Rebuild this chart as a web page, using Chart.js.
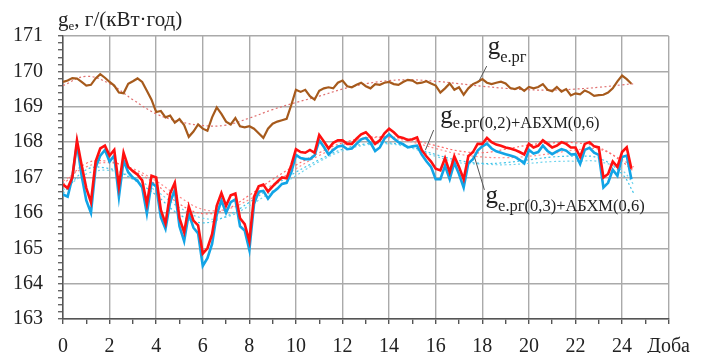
<!DOCTYPE html>
<html lang="uk">
<head>
  <meta charset="UTF-8">
  <title>ge – Доба</title>
  <script src="https://cdn.jsdelivr.net/npm/chart.js"></script>
  <style>
    html, body { margin: 0; padding: 0; background: #fff; }
    #wrap { width: 701px; height: 353px; position: relative; }
    .probe { position: absolute; left: -999px; top: 0; font-family: "Liberation Serif", serif; font-size: 20px; }
  </style>
</head>
<body>
  <div id="wrap"><canvas id="chart" width="701" height="353"></canvas></div>
  <span class="probe">Доба 171</span>

  <script>
    // x positions of the measured series: every 0.2 day from 0 to 24.4
    const days = Array.from({ length: 123 }, (_, i) => Math.round(i * 2) / 10);

    // ge.рг
    const gePr = [
      169.70, 169.74, 169.81, 169.80, 169.70, 169.60, 169.62, 169.80, 169.92, 169.82,
      169.70, 169.60, 169.40, 169.38, 169.65, 169.72, 169.80, 169.70, 169.45, 169.20,
      168.85, 168.88, 168.70, 168.75, 168.55, 168.65, 168.48, 168.15, 168.30, 168.50,
      168.38, 168.32, 168.70, 168.98, 168.80, 168.58, 168.50, 168.68, 168.45, 168.42,
      168.45, 168.38, 168.25, 168.12, 168.38, 168.52, 168.58, 168.62, 168.66, 169.05,
      169.48, 169.42, 169.48, 169.30, 169.20, 169.45, 169.52, 169.55, 169.52, 169.68,
      169.74, 169.58, 169.55, 169.62, 169.68, 169.58, 169.52, 169.64, 169.62, 169.68,
      169.70, 169.64, 169.62, 169.70, 169.76, 169.74, 169.66, 169.68, 169.72, 169.66,
      169.60, 169.40, 169.52, 169.66, 169.48, 169.55, 169.34, 169.52, 169.64, 169.70,
      169.78, 169.68, 169.64, 169.68, 169.71, 169.66, 169.53, 169.50, 169.55, 169.45,
      169.56, 169.52, 169.56, 169.64, 169.48, 169.44, 169.56, 169.43, 169.50, 169.32,
      169.38, 169.35, 169.46, 169.40, 169.31, 169.33, 169.34, 169.40, 169.52, 169.72,
      169.88, 169.78, 169.65
    ];

    // ge.рг(0,2)+АБХМ(0,6)
    const geMix02 = [
      166.80, 166.70, 167.00, 168.05, 167.35, 166.70, 166.30, 167.45, 167.82, 167.90,
      167.62, 167.78, 166.75, 167.70, 167.30, 167.18, 167.08, 166.92, 166.25, 167.05,
      167.00, 166.08, 165.70, 166.55, 166.85, 165.85, 165.45, 166.18, 165.78, 165.65,
      164.85, 165.00, 165.40, 166.20, 166.56, 166.20, 166.50, 166.55, 165.85, 165.68,
      165.20, 166.45, 166.75, 166.80, 166.60, 166.75, 166.88, 167.00, 166.98, 167.35,
      167.80, 167.72, 167.70, 167.78, 167.70, 168.20, 168.02, 167.82, 167.98, 168.05,
      168.05, 167.95, 167.95, 168.10, 168.22, 168.28, 168.14, 167.95, 168.05, 168.25,
      168.38, 168.28, 168.15, 168.12, 168.06, 168.08, 168.13, 167.78, 167.60, 167.45,
      167.25, 167.20, 167.55, 167.15, 167.60, 167.30, 166.95, 167.60, 167.72, 167.95,
      167.95, 168.12, 168.00, 167.93, 167.90, 167.85, 167.82, 167.78, 167.72, 167.65,
      167.95, 167.85, 167.90, 168.05, 167.95, 167.85, 167.90, 168.00, 167.95, 167.85,
      167.85, 167.58, 167.95, 168.00, 167.88, 167.85, 167.00, 167.10, 167.45, 167.30,
      167.72, 167.85, 167.25
    ];

    // ge.рг(0,3)+АБХМ(0,6)
    const geMix03 = [
      166.52, 166.46, 167.00, 167.95, 167.05, 166.35, 166.00, 167.28, 167.62, 167.78,
      167.45, 167.62, 166.45, 167.48, 167.15, 167.00, 166.90, 166.72, 165.98, 166.85,
      166.75, 165.88, 165.55, 166.30, 166.65, 165.62, 165.20, 165.98, 165.58, 165.42,
      164.50, 164.72, 165.12, 165.95, 166.35, 166.00, 166.30, 166.38, 165.62, 165.50,
      164.95, 166.25, 166.60, 166.62, 166.40, 166.58, 166.68, 166.82, 166.85, 167.15,
      167.64, 167.55, 167.52, 167.52, 167.62, 168.05, 167.86, 167.65, 167.78, 167.88,
      167.90, 167.80, 167.82, 167.95, 168.08, 168.12, 167.98, 167.75, 167.85, 168.10,
      168.22, 168.10, 168.00, 167.94, 167.85, 167.88, 167.90, 167.65, 167.46, 167.30,
      166.95, 166.95, 167.33, 166.95, 167.42, 167.10, 166.72, 167.40, 167.52, 167.76,
      167.88, 167.96, 167.82, 167.74, 167.70, 167.66, 167.62, 167.58, 167.50, 167.40,
      167.78, 167.68, 167.72, 167.90, 167.75, 167.66, 167.74, 167.80, 167.76, 167.65,
      167.66, 167.38, 167.78, 167.84, 167.70, 167.64, 166.72, 166.85, 167.22, 167.05,
      167.58, 167.62, 166.95
    ];

    // dotted trend lines, read at whole days
    const trendDays = [0, 1, 2, 3, 4, 5, 6, 7, 8, 9, 10, 11, 12, 13, 14, 15, 16, 17, 18, 19, 20, 21, 22, 23, 24, 24.5];
    const trendPr = [169.60, 169.86, 169.65, 169.20, 168.80, 168.58, 168.47, 168.48, 168.68, 168.92, 169.12, 169.30, 169.50,
                     169.65, 169.74, 169.76, 169.72, 169.65, 169.58, 169.52, 169.48, 169.47, 169.50, 169.55, 169.62, 169.65];
    const trendMix02a = [166.80, 167.40, 167.45, 167.20, 166.80, 166.25, 165.98, 166.10, 166.50, 166.95, 167.35, 167.70, 167.98,
                         168.12, 168.15, 168.06, 167.90, 167.75, 167.70, 167.80, 167.92, 167.98, 167.98, 167.85, 167.45, 167.17];
    const trendMix02b = [166.90, 167.30, 167.42, 167.25, 166.90, 166.45, 166.10, 166.10, 166.38, 166.80, 167.25, 167.62, 167.92,
                         168.10, 168.12, 168.00, 167.82, 167.66, 167.58, 167.56, 167.60, 167.68, 167.78, 167.80, 167.50, 167.30];
    const trendMix03a = [166.55, 167.22, 167.25, 166.95, 166.50, 165.95, 165.72, 165.90, 166.30, 166.75, 167.15, 167.50, 167.80,
                         167.95, 167.98, 167.85, 167.65, 167.48, 167.40, 167.42, 167.50, 167.58, 167.60, 167.55, 167.10, 166.56];
    const trendMix03b = [166.65, 167.10, 167.20, 167.00, 166.62, 166.15, 165.85, 165.88, 166.20, 166.62, 167.05, 167.45, 167.75,
                         167.92, 167.95, 167.82, 167.60, 167.42, 167.38, 167.36, 167.40, 167.45, 167.46, 167.45, 167.20, 166.80];

    const FONT = '"Liberation Serif", "DejaVu Serif", serif';

    const pts = (xs, ys) => ys.map((v, i) => ({ x: xs[i], y: v }));

    function solid(data, color, width, order) {
      return { data, borderColor: color, borderWidth: width, pointRadius: 0, tension: 0, order };
    }
    function dotted(data, color, order) {
      return { data, borderColor: color, borderWidth: 1.2, borderDash: [2, 2.5], pointRadius: 0, tension: 0.4, order };
    }

    // labels with big "g" and subscript, placed in data coordinates
    const labels = [
      { sub: 'e.рг',                 x: 18.23, y: 170.49, drop: 8, line: [18.19, 170.15, 17.88, 169.76] },
      { sub: 'e.рг(0,2)+АБХМ(0,6)',  x: 16.20, y: 168.54, drop: 5, line: [15.91, 168.34, 15.56, 167.78] },
      { sub: 'e.рг(0,3)+АБХМ(0,6)',  x: 18.14, y: 166.28, drop: 8, line: [18.09, 166.65, 17.66, 167.59] }
    ];

    const textPlugin = {
      id: 'texts',
      afterDraw(chart) {
        const { ctx, chartArea, scales: { x, y } } = chart;
        ctx.save();
        ctx.fillStyle = '#222';
        ctx.textBaseline = 'alphabetic';

        // axis title
        let tx = chartArea.left - 5, ty = chartArea.top - 10;
        ctx.font = '21px ' + FONT;
        ctx.fillText('g', tx, ty);
        tx += ctx.measureText('g').width;
        ctx.font = '13px ' + FONT;
        ctx.fillText('e', tx, ty + 4);
        tx += ctx.measureText('e').width;
        ctx.font = '21px ' + FONT;
        ctx.fillText(', г/(кВт·год)', tx, ty);

        // series labels with leader lines
        labels.forEach(l => {
          ctx.strokeStyle = '#555';
          ctx.lineWidth = 1;
          ctx.beginPath();
          ctx.moveTo(x.getPixelForValue(l.line[0]), y.getPixelForValue(l.line[1]));
          ctx.lineTo(x.getPixelForValue(l.line[2]), y.getPixelForValue(l.line[3]));
          ctx.stroke();

          const px = x.getPixelForValue(l.x), py = y.getPixelForValue(l.y);
          ctx.font = '25px ' + FONT;
          ctx.fillText('g', px, py);
          const w = ctx.measureText('g').width;
          ctx.font = '16.5px ' + FONT;
          ctx.fillText(l.sub, px + w, py + l.drop);
        });
        ctx.restore();
      }
    };

    function draw() {
      new Chart(document.getElementById('chart'), {
        type: 'line',
        data: {
          datasets: [
            solid(pts(days, gePr), '#a65a1c', 2.2, 1),
            solid(pts(days, geMix02), '#ff1010', 2.6, 2),
            solid(pts(days, geMix03), '#12a4e6', 2.6, 3),
            dotted(pts(trendDays, trendPr), '#e07070', 4),
            dotted(pts(trendDays, trendMix02a), '#ff6a6a', 5),
            dotted(pts(trendDays, trendMix02b), '#ff8a8a', 6),
            dotted(pts(trendDays, trendMix03a), '#40c4e8', 7),
            dotted(pts(trendDays, trendMix03b), '#70d4ee', 8)
          ]
        },
        options: {
          responsive: false,
          animation: false,
          devicePixelRatio: 1,
          layout: { padding: { left: 0, right: 23, top: 36, bottom: 0 } },
          plugins: { legend: { display: false }, tooltip: { enabled: false } },
          scales: {
            x: {
              type: 'linear',
              min: 0,
              max: 26,
              afterFit: s => { s.height = 34; },
              border: { color: '#555', width: 1.5 },
              grid: {
                color: c => (c.tick && c.tick.value % 2 === 0 ? '#aaaaaa' : 'rgba(0,0,0,0)'),
                lineWidth: 1.4,
                tickColor: '#555',
                tickLength: 5
              },
              ticks: {
                stepSize: 1,
                autoSkip: false,
                maxRotation: 0,
                padding: 11,
                color: '#222',
                font: { family: FONT, size: 20 },
                callback: v => (v === 26 ? 'Доба' : (v % 2 === 0 ? String(v) : ''))
              }
            },
            y: {
              min: 163,
              max: 171,
              afterFit: s => { s.width = 63; },
              border: { color: '#555', width: 1.5 },
              grid: {
                color: c => (c.tick && Math.abs(c.tick.value - Math.round(c.tick.value)) < 1e-6 ? '#aaaaaa' : 'rgba(0,0,0,0)'),
                lineWidth: 1.4,
                tickColor: '#666',
                tickLength: 5
              },
              ticks: {
                stepSize: 0.2,
                maxTicksLimit: 100,
                autoSkip: false,
                padding: 15,
                color: '#222',
                font: { family: FONT, size: 20 },
                callback: v => (Math.abs(v - Math.round(v)) < 1e-6 ? String(Math.round(v)) : '')
              }
            }
          }
        },
        plugins: [textPlugin]
      });
    }

    // make sure the serif face is ready before the canvas text is drawn
    if (document.fonts && document.fonts.load) {
      Promise.all([
        document.fonts.load('20px "Liberation Serif"', 'Доба 171 g'),
        document.fonts.load('20px "DejaVu Serif"', 'Доба')
      ]).then(draw, draw);
    } else {
      draw();
    }
  </script>
</body>
</html>
